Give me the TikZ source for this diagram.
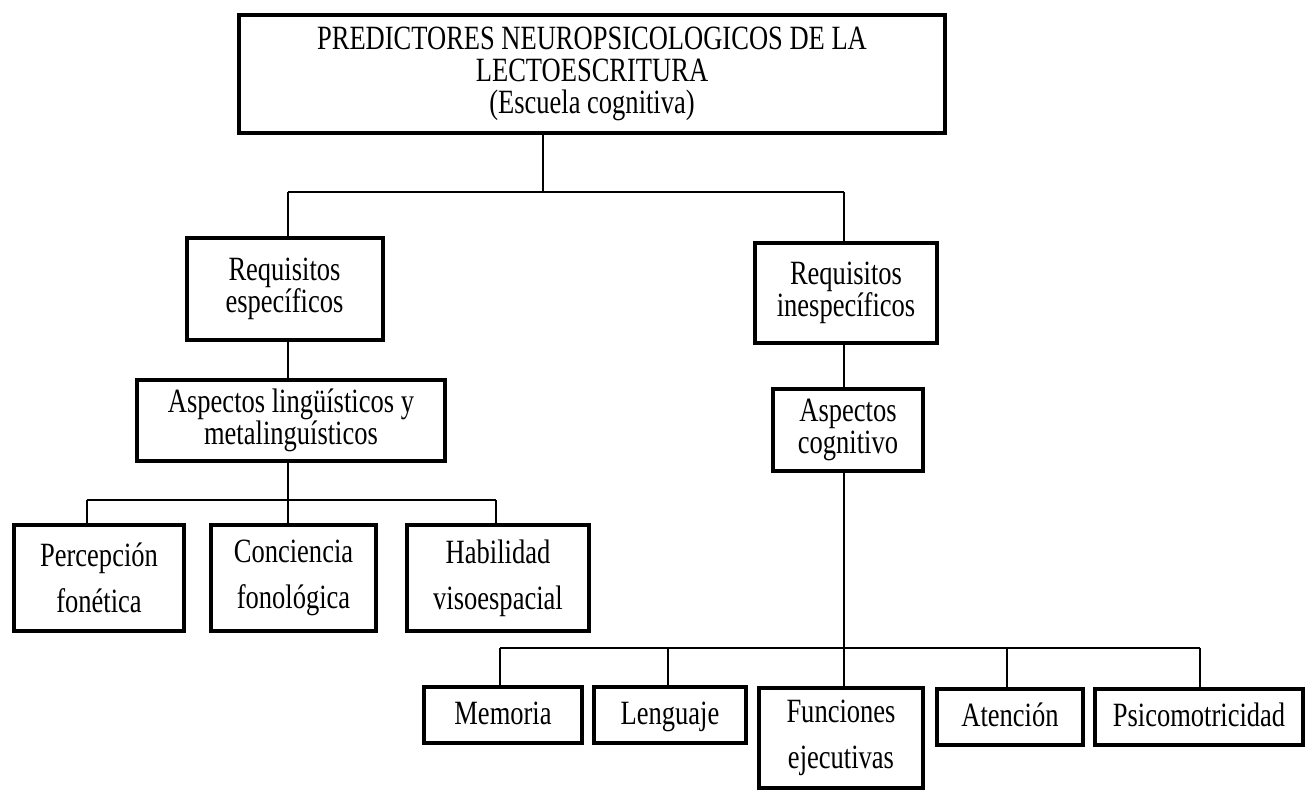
\documentclass[tikz,border=0pt]{standalone}
\usepackage{fontspec}
\setmainfont{Liberation Serif}[FakeStretch=0.78]

\begin{document}
\begin{tikzpicture}[
    x=.5pt, y=-.5pt,
    box/.style={
        draw, line width=2pt, rectangle, align=center, inner sep=0pt,
        font=\fontsize{17}{16}\selectfont
    },
    tall/.style={
        box, font=\fontsize{17}{23}\selectfont
    },
    one/.style={
        tall, text height=12pt, text depth=3pt
    },
    link/.style={
        line width=.75pt
    },
]
    \useasboundingbox (0,0) rectangle (1306,792);

    \node[box, minimum width=353pt, minimum height=59pt](t0) at (592,74)
        {PREDICTORES NEUROPSICOLOGICOS DE LA\\LECTOESCRITURA\\(Escuela cognitiva)};

    \node[box, minimum width=98pt, minimum height=51pt](r1) at (284.5,289) {Requisitos\\específicos};
    \node[box, minimum width=91pt, minimum height=50pt](r2) at (846,293) {Requisitos\\inespecíficos};

    \node[box, minimum width=154pt, minimum height=40.5pt](a1) at (291,420.5) {Aspectos lingüísticos y\\metalinguísticos};
    \node[box, minimum width=75pt, minimum height=41pt](a2) at (848,430) {Aspectos\\cognitivo};

    \node[tall, minimum width=85pt, minimum height=53pt](h1) at (99,578) {Percepción\\fonética};
    \node[tall, minimum width=82.5pt, minimum height=53pt](h2) at (293.5,578) {Conciencia\\fonológica};
    \node[tall, minimum width=91pt, minimum height=53pt](h3) at (498,578) {Habilidad\\visoespacial};

    \node[one, minimum width=79pt, minimum height=28pt](c1) at (503,715) {Memoria};
    \node[one, minimum width=76pt, minimum height=28pt](c2) at (670,715) {Lenguaje};
    \node[tall, minimum width=82pt, minimum height=50pt](c3) at (841,738) {\rule{0pt}{9pt}Funciones\\ejecutivas};
    \node[one, minimum width=73pt, minimum height=28pt](c4) at (1010,717) {Atención};
    \node[one, minimum width=104pt, minimum height=28pt](c5) at (1199,717) {Psicomotricidad};

    % junctions
    \coordinate (j0) at (543,192);
    \coordinate (j1) at (288,192);
    \coordinate (j2) at (844,192);
    \coordinate (k1) at (87,500);
    \coordinate (k2) at (496,500);
    \coordinate (m1) at (500,648);
    \coordinate (m2) at (668,648);
    \coordinate (m4) at (1007,648);
    \coordinate (m5) at (1200,648);

    \draw[link] (t0.south -| j0) -- (j0);
    \draw[link] (j1) -- (j2);
    \draw[link] (j1) -- (j1 |- r1.north);
    \draw[link] (j2) -- (j2 |- r2.north);

    \draw[link] (r1.south -| j1) -- (a1.north -| j1);
    \draw[link] (r2.south -| j2) -- (a2.north -| j2);

    \draw[link] (a1.south -| j1) -- (h2.north -| j1);
    \draw[link] (k1) -- (k2);
    \draw[link] (k1) -- (k1 |- h1.north);
    \draw[link] (k2) -- (k2 |- h3.north);

    \draw[link] (a2.south -| j2) -- (c3.north -| j2);
    \draw[link] (m1) -- (m5);
    \foreach \m/\c in {m1/c1, m2/c2, m4/c4, m5/c5}
        \draw[link] (\m) -- (\m |- \c.north);

\end{tikzpicture}
\end{document}
